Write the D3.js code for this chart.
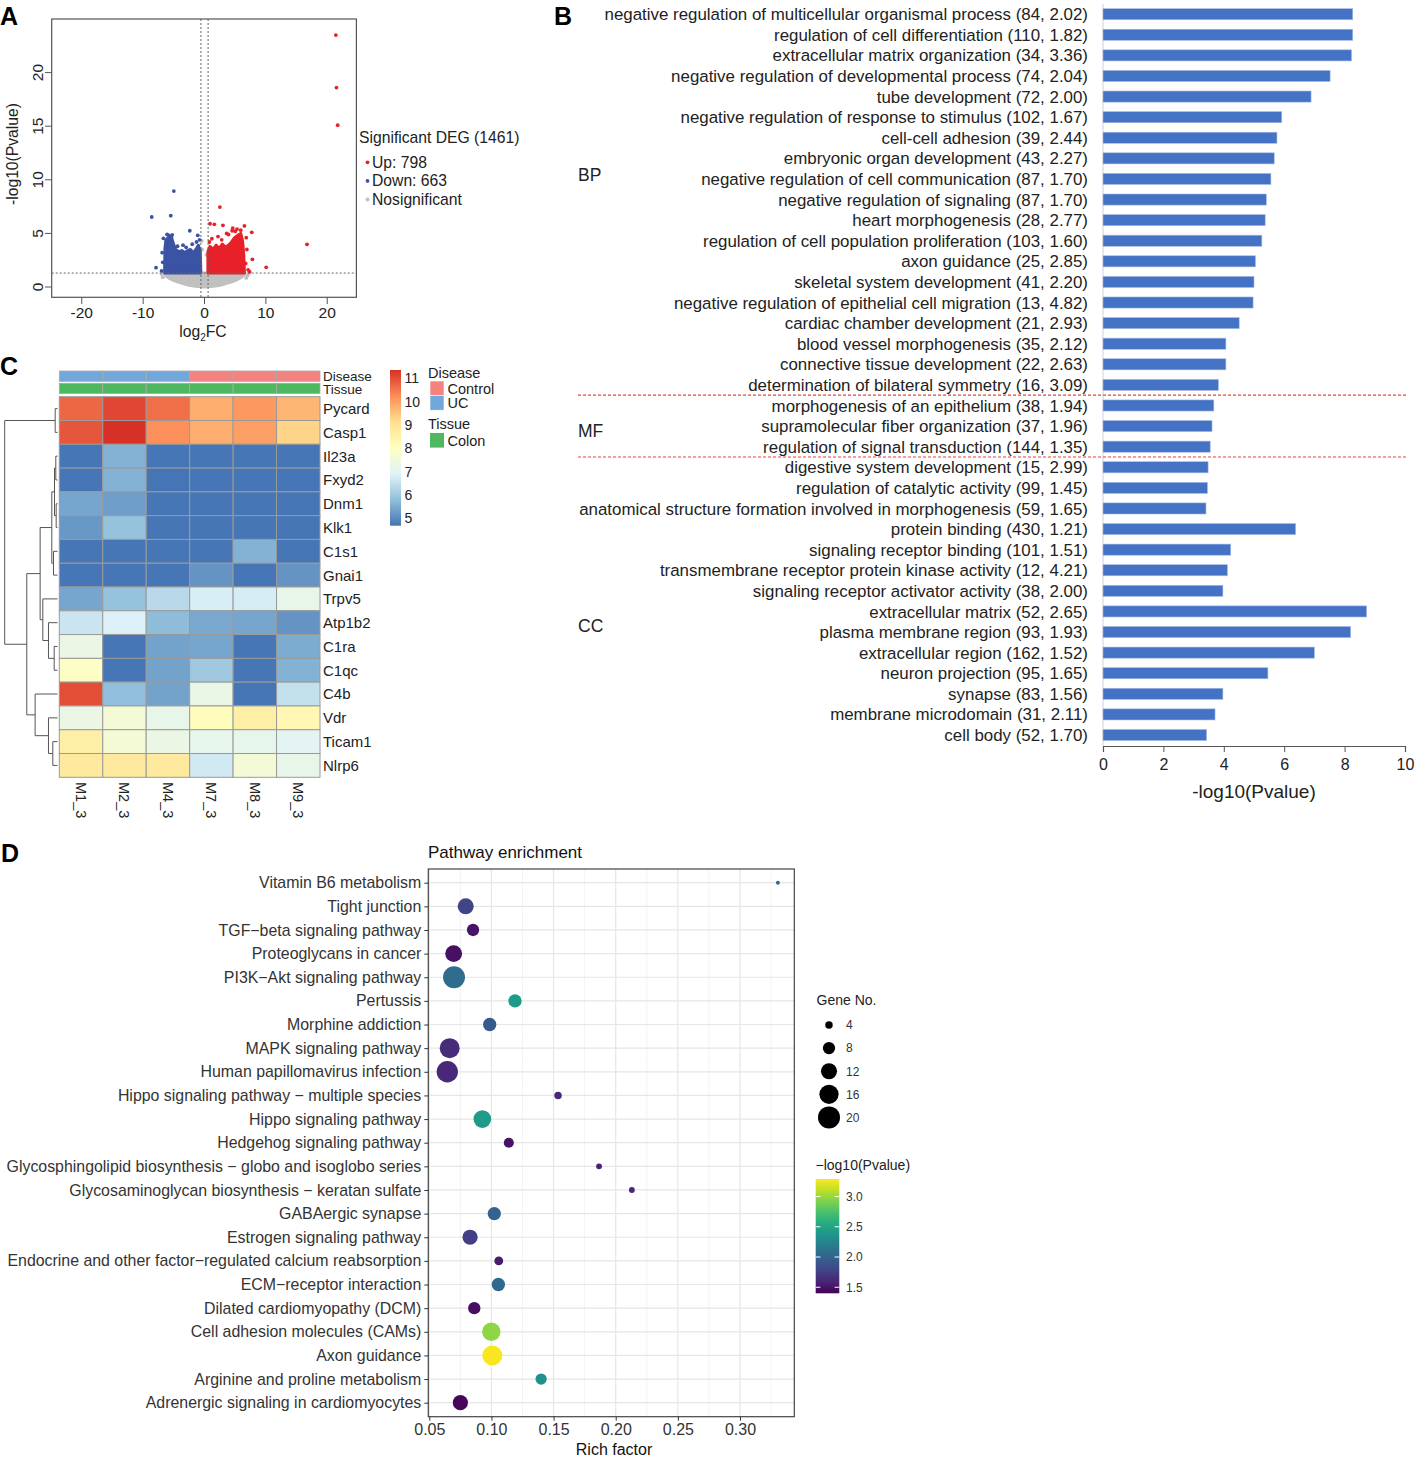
<!DOCTYPE html>
<html>
<head>
<meta charset="utf-8">
<script src="https://cdn.jsdelivr.net/npm/d3@7"></script>
<style>
  body { margin: 0; background: #fff; }
  svg { font-family: "Liberation Sans", Arial, sans-serif; }
</style>
</head>
<body>
<svg id="fig" width="1418" height="1458"></svg>
<script>
'use strict';

// ---------- A: volcano ----------
var degTotal = 1461, degUp = 798, degDown = 663;
var pCut = 1.3, fcCut = 0.585;
// dense clusters (outline), top edge at each log2FC
var upEdge = [[0.55,1.35],[0.55,3.3],[0.9,3.8],[1.4,3.5],[1.9,3.9],[2.4,3.6],[2.9,4.0],[3.4,3.7],[3.9,3.9],
  [4.4,4.2],[4.9,4.6],[5.4,4.8],[5.9,5.0],[6.2,4.3],[6.4,3.0],[6.5,1.35]];
var downEdge = [[-6.5,1.35],[-6.45,3.6],[-6.3,4.4],[-5.9,4.6],[-5.4,4.7],[-5.1,4.1],[-4.7,3.5],[-4.2,3.3],
  [-3.7,3.4],[-3.2,3.2],[-2.8,3.4],[-2.3,3.5],[-1.8,3.2],[-1.4,3.5],[-1.0,3.9],[-0.7,3.4],[-0.6,1.35]];
var nsFloor = [[-6.6,1.3],[-6.3,0.95],[-5,0.6],[-4,0.4],[-3,0.22],[-2,0.1],[-1,0.03],[0,0],
  [1,0.03],[2,0.1],[3,0.22],[4,0.4],[5,0.6],[6.3,0.95],[6.6,1.3]];
// scattered points
var upPoints = [[21.4,23.5],[21.5,18.6],[21.7,15.1],[16.7,3.98],[10.05,1.84],[7.35,1.43],[7.8,2.58],[7.7,5.1],
  [6.5,5.7],[2.5,7.46],[0.9,5.9],[1.6,5.85],[3.0,5.75],[4.6,5.5],[4.5,5.25],[5.9,5.3],[5.3,5.4],[3.9,4.9],
  [2.2,4.7],[1.2,4.5],[6.8,4.6],[6.9,3.5],[6.7,2.2],[7.1,1.6],[3.6,5.0],[5.0,5.2],[0.8,4.2],[2.8,4.4]];
var downPoints = [[-5.0,8.95],[-8.6,6.53],[-5.5,6.65],[-2.4,5.25],[-7.9,1.8],[-6.7,4.54],[-5.8,4.82],[-5.26,4.85],
  [-1.1,4.82],[-1.3,4.2],[-6.9,3.2],[-6.8,2.3],[-7.0,1.5],[-3.5,3.9],[-2.0,4.0],[-4.4,3.8],[-0.8,4.4],[-6.1,4.9],[-3.0,3.7]];
var nsPoints = [[7.2,1.25],[7.0,1.05],[-7.0,1.2],[-6.8,0.9],[6.8,0.85],[-0.45,4.3],[-0.4,3.5],[0.3,3.0]];
var volcXTicks = [-20, -10, 0, 10, 20];
var volcYTicks = [0, 5, 10, 15, 20];

// ---------- B: GO terms ----------
var goTerms = [
  'negative regulation of multicellular organismal process','regulation of cell differentiation',
  'extracellular matrix organization','negative regulation of developmental process','tube development',
  'negative regulation of response to stimulus','cell-cell adhesion','embryonic organ development',
  'negative regulation of cell communication','negative regulation of signaling','heart morphogenesis',
  'regulation of cell population proliferation','axon guidance','skeletal system development',
  'negative regulation of epithelial cell migration','cardiac chamber development','blood vessel morphogenesis',
  'connective tissue development','determination of bilateral symmetry',
  'morphogenesis of an epithelium','supramolecular fiber organization','regulation of signal transduction',
  'digestive system development','regulation of catalytic activity',
  'anatomical structure formation involved in morphogenesis','protein binding','signaling receptor binding',
  'transmembrane receptor protein kinase activity','signaling receptor activator activity','extracellular matrix',
  'plasma membrane region','extracellular region','neuron projection','synapse','membrane microdomain','cell body'];
var goCounts = [84,110,34,74,72,102,39,43,87,87,28,103,25,41,13,21,35,22,16, 38,37,144,
  15,99,59,430,101,12,38,52,93,162,95,83,31,52];
var goFold = [2.02,1.82,3.36,2.04,2.00,1.67,2.44,2.27,1.70,1.70,2.77,1.60,2.85,2.20,4.82,2.93,2.12,2.63,3.09,
  1.94,1.96,1.35, 2.99,1.45,1.65,1.21,1.51,4.21,2.00,2.65,1.93,1.52,1.65,1.56,2.11,1.70];
var goLogP = [8.27,8.27,8.23,7.52,6.89,5.92,5.76,5.67,5.56,5.41,5.37,5.26,5.05,5.00,4.97,4.51,4.07,4.07,3.82,
  3.67,3.61,3.55, 3.48,3.46,3.41,6.38,4.23,4.12,3.97,8.73,8.20,7.00,5.46,3.97,3.71,3.43];
var goGroups = ['BP','MF','CC'];
var goGroupSize = [19, 3, 14];
var goXTicks = [0, 2, 4, 6, 8, 10];

// ---------- C: heatmap ----------
var hmSamples = ['M1_3','M2_3','M4_3','M7_3','M8_3','M9_3'];
var hmDisease = ['UC','UC','UC','Control','Control','Control'];
var hmTissue = ['Colon','Colon','Colon','Colon','Colon','Colon'];
var hmGenes = ['Pycard','Casp1','Il23a','Fxyd2','Dnm1','Klk1','C1s1','Gnai1','Trpv5','Atp1b2','C1ra','C1qc','C4b','Vdr','Ticam1','Nlrp6'];
var hmValues = [
  [10.7, 11.1, 10.6, 9.8, 10.1, 9.7],
  [10.9, 11.36, 10.2, 9.8, 10.0, 9.3],
  [4.7, 5.6, 4.7, 4.7, 4.7, 4.7],
  [4.7, 5.6, 4.68, 4.7, 4.7, 4.7],
  [5.4, 5.3, 4.7, 4.7, 4.7, 4.7],
  [5.2, 5.85, 4.7, 4.7, 4.7, 4.7],
  [4.7, 4.7, 4.7, 4.7, 5.6, 4.7],
  [4.7, 4.7, 4.7, 5.15, 4.7, 5.15],
  [5.4, 5.85, 6.35, 6.8, 6.75, 7.2],
  [6.6, 6.85, 5.75, 5.45, 5.4, 5.15],
  [7.3, 4.7, 5.35, 5.4, 4.7, 5.5],
  [7.9, 4.7, 5.35, 6.0, 4.7, 5.6],
  [11.0, 5.8, 5.35, 7.25, 4.7, 6.5],
  [7.3, 7.6, 7.2, 8.1, 8.6, 8.3],
  [8.6, 7.6, 7.3, 7.15, 7.15, 7.0],
  [8.8, 8.8, 8.8, 6.7, 7.6, 7.2]];
// row clustering, hclust style: leaf name or index of an earlier merge, then height
var rowMerges = [
  ['Pycard','Casp1',4.4], ['Il23a','Fxyd2',3.2], ['Dnm1','Klk1',2.5], [1,2,5.7], ['C1s1','Gnai1',7.6],
  [3,4,10.8], ['C1ra','C1qc',6.3], ['Atp1b2',6,17.1], ['Trpv5',7,27.8], [5,8,32.9],
  ['Ticam1','Nlrp6',8.9], ['Vdr',10,17.1], ['C4b',11,42.4], [9,12,58.2], [0,13,100]];
var hmPalette = ['#4575B4','#91BFDB','#E0F3F8','#FFFFBF','#FEE090','#FC8D59','#D73027'];
var hmLegendTicks = [5, 6, 7, 8, 9, 10, 11];
var diseaseLevels = ['Control','UC'];
var diseaseColors = ['#F3837F','#72A7DB'];
var tissueLevels = ['Colon'];
var tissueColors = ['#4DB860'];

// ---------- D: KEGG bubbles ----------
var keggTerms = ['Vitamin B6 metabolism','Tight junction','TGF\u2212beta signaling pathway','Proteoglycans in cancer',
  'PI3K\u2212Akt signaling pathway','Pertussis','Morphine addiction','MAPK signaling pathway',
  'Human papillomavirus infection','Hippo signaling pathway \u2212 multiple species','Hippo signaling pathway',
  'Hedgehog signaling pathway','Glycosphingolipid biosynthesis \u2212 globo and isoglobo series',
  'Glycosaminoglycan biosynthesis \u2212 keratan sulfate','GABAergic synapse','Estrogen signaling pathway',
  'Endocrine and other factor\u2212regulated calcium reabsorption','ECM\u2212receptor interaction',
  'Dilated cardiomyopathy (DCM)','Cell adhesion molecules (CAMs)','Axon guidance',
  'Arginine and proline metabolism','Adrenergic signaling in cardiomyocytes'];
var keggRich = [0.3305,0.0793,0.0852,0.0696,0.0699,0.119,0.0986,0.0664,0.0645,0.1536,0.0927,0.114,0.1866,0.213,
  0.1023,0.0828,0.1059,0.1056,0.0862,0.0999,0.1007,0.140,0.075];
var keggGenes = [2,12,8,13,20,9,9,17,19,4,14,6,3,3,9,11,5,9,8,15,17,7,11];
var keggLogP = [2.05,1.78,1.5,1.48,2.06,2.44,1.93,1.63,1.62,1.62,2.44,1.49,1.58,1.62,2.0,1.74,1.55,2.04,1.47,2.97,3.27,2.35,1.43];
var keggXTicks = [0.05,0.10,0.15,0.20,0.25,0.30];
var geneLegend = [4, 8, 12, 16, 20];
var pLegend = [1.5, 2.0, 2.5, 3.0];

var svg = d3.select('#fig');

function panelLetter(t, x, y) {
  svg.append('text').attr('x', x).attr('y', y).attr('font-size', 25).attr('font-weight', 'bold')
    .attr('font-family', 'Liberation Sans, Arial, sans-serif').text(t);
}

// ================= Panel A =================
(function() {
  var g = svg.append('g');
  var x = d3.scaleLinear().domain([-24.9, 24.75]).range([51.7, 356.4]);
  var y = d3.scaleLinear().domain([-0.96, 25]).range([297.3, 19]);

  g.append('clipPath').attr('id', 'clipA').append('rect')
    .attr('x', 51.7).attr('y', 19).attr('width', 304.7).attr('height', 278.3);
  var p = g.append('g').attr('clip-path', 'url(#clipA)');

  p.append('path').datum(nsFloor)
    .attr('d', d3.area().x(function(d) { return x(d[0]); }).y0(y(pCut)).y1(function(d) { return y(d[1]); }).curve(d3.curveBasis))
    .attr('fill', '#c0c0c0').attr('stroke', '#c0c0c0').attr('stroke-width', 3).attr('stroke-linejoin', 'round');
  p.selectAll('.ns').data(nsPoints).enter().append('circle')
    .attr('cx', function(d) { return x(d[0]); }).attr('cy', function(d) { return y(d[1]); })
    .attr('r', 1.9).attr('fill', '#c0c0c0');

  var edge = d3.area().x(function(d) { return x(d[0]); }).y0(y(pCut)).y1(function(d) { return y(d[1]); });
  p.append('path').datum(downEdge).attr('d', edge)
    .attr('fill', '#3a53a4').attr('stroke', '#3a53a4').attr('stroke-width', 3).attr('stroke-linejoin', 'round');
  p.append('path').datum(upEdge).attr('d', edge)
    .attr('fill', '#e8202a').attr('stroke', '#e8202a').attr('stroke-width', 3).attr('stroke-linejoin', 'round');
  p.selectAll('.dn').data(downPoints).enter().append('circle')
    .attr('cx', function(d) { return x(d[0]); }).attr('cy', function(d) { return y(d[1]); })
    .attr('r', 1.9).attr('fill', '#3a53a4');
  p.selectAll('.up').data(upPoints).enter().append('circle')
    .attr('cx', function(d) { return x(d[0]); }).attr('cy', function(d) { return y(d[1]); })
    .attr('r', 1.9).attr('fill', '#e8202a');

  // cut-off lines
  [-fcCut, fcCut].forEach(function(v) {
    p.append('line').attr('x1', x(v)).attr('x2', x(v)).attr('y1', 19).attr('y2', 297.3)
      .attr('stroke', '#666').attr('stroke-width', 1).attr('stroke-dasharray', '2,2');
  });
  p.append('line').attr('x1', 51.7).attr('x2', 356.4).attr('y1', y(pCut)).attr('y2', y(pCut))
    .attr('stroke', '#666').attr('stroke-width', 1).attr('stroke-dasharray', '2,2');

  g.append('rect').attr('x', 51.7).attr('y', 19).attr('width', 304.7).attr('height', 278.3)
    .attr('fill', 'none').attr('stroke', '#555').attr('stroke-width', 1.2);

  // axes, base-R look
  g.selectAll('.xt').data(volcXTicks).enter().append('line')
    .attr('x1', x).attr('x2', x).attr('y1', 297.3).attr('y2', 304).attr('stroke', '#555');
  g.selectAll('.xl').data(volcXTicks).enter().append('text')
    .attr('x', x).attr('y', 318).attr('text-anchor', 'middle').attr('font-size', 15.5).attr('fill', '#222')
    .text(function(d) { return d; });
  g.selectAll('.yt').data(volcYTicks).enter().append('line')
    .attr('x1', 45).attr('x2', 51.7).attr('y1', y).attr('y2', y).attr('stroke', '#555');
  g.selectAll('.yl').data(volcYTicks).enter().append('text')
    .attr('transform', function(d) { return 'translate(43,' + y(d) + ') rotate(-90)'; })
    .attr('text-anchor', 'middle').attr('font-size', 15.5).attr('fill', '#222').text(function(d) { return d; });

  g.append('text').attr('transform', 'translate(18,154) rotate(-90)').attr('text-anchor', 'middle')
    .attr('font-size', 15.7).attr('fill', '#222').text('-log10(Pvalue)');
  var xl = g.append('text').attr('x', 203).attr('y', 337).attr('text-anchor', 'middle')
    .attr('font-size', 15.7).attr('fill', '#222');
  xl.append('tspan').text('log');
  xl.append('tspan').attr('font-size', 10).attr('dy', 4).text('2');
  xl.append('tspan').attr('dy', -4).text('FC');

  // legend
  g.append('text').attr('x', 359).attr('y', 143).attr('font-size', 15.7).attr('fill', '#222')
    .text('Significant DEG (' + degTotal + ')');
  var leg = [['Up: ' + degUp, '#e8202a'], ['Down: ' + degDown, '#3a53a4'], ['Nosignificant', '#c0c0c0']];
  leg.forEach(function(d, i) {
    var yy = 162.3 + i * 18.6;
    g.append('circle').attr('cx', 367.5).attr('cy', yy).attr('r', 1.9).attr('fill', d[1]);
    g.append('text').attr('x', 372).attr('y', yy + 5.5).attr('font-size', 15.7).attr('fill', '#222').text(d[0]);
  });
  panelLetter('A', 0, 25);
})();

// ================= Panel B =================
(function() {
  var g = svg.append('g');
  var x = d3.scaleLinear().domain([0, 10]).range([1103, 1405]);
  var y = d3.scaleBand().domain(goTerms).range([3.9, 745.3]).paddingInner(0.46).paddingOuter(0.23);

  g.append('line').attr('x1', 1103).attr('x2', 1103).attr('y1', 4).attr('y2', 746)
    .attr('stroke', '#d9d9d9').attr('stroke-width', 1.2);

  g.selectAll('rect.bar').data(goTerms).enter().append('rect').attr('class', 'bar')
    .attr('x', x(0)).attr('y', function(d) { return y(d); })
    .attr('width', function(d, i) { return x(goLogP[i]) - x(0); })
    .attr('height', y.bandwidth())
    .attr('fill', '#4472C4').attr('stroke', '#a9bde6').attr('stroke-width', 0.6);

  g.selectAll('text.lab').data(goTerms).enter().append('text').attr('class', 'lab')
    .attr('x', 1088).attr('y', function(d) { return y(d) + y.bandwidth() / 2; })
    .attr('dy', '0.36em').attr('text-anchor', 'end').attr('font-size', 16.9).attr('fill', '#222')
    .text(function(d, i) { return d + ' (' + goCounts[i] + ', ' + d3.format('.2f')(goFold[i]) + ')'; });

  // group separators and labels
  var start = 0;
  var labelRowPos = [7.8, 20.2, 29.7];
  goGroups.forEach(function(grp, k) {
    var end = start + goGroupSize[k];
    if (k > 0) {
      var yy = y(goTerms[start]) - y.step() * 0.23;
      g.append('line').attr('x1', 578).attr('x2', 1407).attr('y1', yy).attr('y2', yy)
        .attr('stroke', '#e8413a').attr('stroke-width', 1.2).attr('stroke-dasharray', '3,2');
    }
    var ly = y(goTerms[0]) + y.bandwidth() / 2 + labelRowPos[k] * y.step();
    g.append('text').attr('x', 578).attr('y', ly).attr('dy', '0.36em').attr('font-size', 17.5).attr('fill', '#222').text(grp);
    start = end;
  });

  var ax = g.append('g').attr('transform', 'translate(0,746)')
    .call(d3.axisBottom(x).tickValues(goXTicks).tickSize(6).tickPadding(7));
  ax.select('.domain').attr('stroke', '#555').attr('stroke-width', 1.2);
  ax.selectAll('.tick line').attr('stroke', '#555');
  ax.selectAll('text').attr('font-size', 16).attr('fill', '#222').attr('font-family', null);
  g.append('text').attr('x', 1254).attr('y', 798).attr('text-anchor', 'middle').attr('font-size', 19)
    .attr('fill', '#222').text('-log10(Pvalue)');
  panelLetter('B', 554, 25);
})();

// ================= Panel C =================
(function() {
  var g = svg.append('g');
  var x = d3.scaleBand().domain(hmSamples).range([59.3, 320]);
  var y = d3.scaleBand().domain(hmGenes).range([396.7, 777.3]);
  var ext = d3.extent(d3.merge(hmValues));
  var col = d3.scaleLinear()
    .domain(hmPalette.map(function(c, i) { return ext[0] + (ext[1] - ext[0]) * i / (hmPalette.length - 1); }))
    .range(hmPalette).interpolate(d3.interpolateRgb);
  var dCol = d3.scaleOrdinal().domain(diseaseLevels).range(diseaseColors);
  var tCol = d3.scaleOrdinal().domain(tissueLevels).range(tissueColors);

  // annotation tracks
  g.selectAll('.ad').data(hmSamples).enter().append('rect')
    .attr('x', function(d) { return x(d); }).attr('y', 371).attr('width', x.bandwidth()).attr('height', 10.3)
    .attr('fill', function(d, i) { return dCol(hmDisease[i]); }).attr('stroke', '#aaa').attr('stroke-width', 0.8);
  g.selectAll('.at').data(hmSamples).enter().append('rect')
    .attr('x', function(d) { return x(d); }).attr('y', 383.3).attr('width', x.bandwidth()).attr('height', 10.3)
    .attr('fill', function(d, i) { return tCol(hmTissue[i]); }).attr('stroke', '#aaa').attr('stroke-width', 0.8);
  g.append('text').attr('x', 323).attr('y', 380.5).attr('font-size', 13.5).attr('fill', '#222').text('Disease');
  g.append('text').attr('x', 323).attr('y', 393.5).attr('font-size', 13.5).attr('fill', '#222').text('Tissue');

  // cells
  hmValues.forEach(function(row, r) {
    g.selectAll('.c' + r).data(row).enter().append('rect')
      .attr('x', function(d, c) { return x(hmSamples[c]); }).attr('y', y(hmGenes[r]))
      .attr('width', x.bandwidth()).attr('height', y.bandwidth())
      .attr('fill', function(d) { return col(d); }).attr('stroke', '#9a9a9a').attr('stroke-width', 1);
  });
  g.selectAll('.rl').data(hmGenes).enter().append('text')
    .attr('x', 323).attr('y', function(d) { return y(d) + y.bandwidth() / 2; }).attr('dy', '0.36em')
    .attr('font-size', 15).attr('fill', '#222').text(function(d) { return d; });
  g.selectAll('.cl').data(hmSamples).enter().append('text')
    .attr('transform', function(d) { return 'translate(' + (x(d) + x.bandwidth() / 2) + ',782) rotate(90)'; })
    .attr('dy', '0.36em').attr('font-size', 14.5).attr('fill', '#222').text(function(d) { return d; });

  // dendrogram
  var h = d3.scaleLinear().domain([0, 100]).range([57.5, 4.7]);
  var pos = rowMerges.map(function() { return null; });
  function at(ref) {
    if (typeof ref === 'string') return { x: h(0), y: y(ref) + y.bandwidth() / 2 };
    return pos[ref];
  }
  rowMerges.forEach(function(m, i) {
    var a = at(m[0]), b = at(m[1]), hx = h(m[2]);
    pos[i] = { x: hx, y: (a.y + b.y) / 2 };
    g.append('path').attr('d', 'M' + a.x + ',' + a.y + 'H' + hx + 'V' + b.y + 'H' + b.x)
      .attr('fill', 'none').attr('stroke', '#555').attr('stroke-width', 1);
  });

  // colour key
  var cy = d3.scaleLinear().domain(ext).range([525.7, 370]);
  var grad = svg.append('defs').append('linearGradient').attr('id', 'hmGrad')
    .attr('x1', 0).attr('y1', 1).attr('x2', 0).attr('y2', 0);
  hmPalette.forEach(function(c, i) {
    grad.append('stop').attr('offset', i / (hmPalette.length - 1)).attr('stop-color', c);
  });
  g.append('rect').attr('x', 390).attr('y', 370).attr('width', 11).attr('height', 155.7).attr('fill', 'url(#hmGrad)');
  g.selectAll('.kl').data(hmLegendTicks).enter().append('text')
    .attr('x', 404.5).attr('y', cy).attr('dy', '0.36em').attr('font-size', 14).attr('fill', '#222')
    .text(function(d) { return d; });

  // annotation legend
  g.append('text').attr('x', 428).attr('y', 378).attr('font-size', 14.5).attr('fill', '#222').text('Disease');
  diseaseLevels.forEach(function(lv, i) {
    g.append('rect').attr('x', 430).attr('y', 381 + i * 14.6).attr('width', 14).attr('height', 14.6)
      .attr('fill', dCol(lv)).attr('stroke', '#fff').attr('stroke-width', 0.6);
    g.append('text').attr('x', 447.5).attr('y', 388.3 + i * 14.6).attr('dy', '0.36em').attr('font-size', 14.5)
      .attr('fill', '#222').text(lv);
  });
  g.append('text').attr('x', 428).attr('y', 429).attr('font-size', 14.5).attr('fill', '#222').text('Tissue');
  tissueLevels.forEach(function(lv, i) {
    g.append('rect').attr('x', 430).attr('y', 433 + i * 14.6).attr('width', 14).attr('height', 14.6)
      .attr('fill', tCol(lv));
    g.append('text').attr('x', 447.5).attr('y', 440.5 + i * 14.6).attr('dy', '0.36em').attr('font-size', 14.5)
      .attr('fill', '#222').text(lv);
  });
  panelLetter('C', 0, 375);
})();

// ================= Panel D =================
(function() {
  var g = svg.append('g');
  var L = 428.3, R = 794.3, T = 869, B = 1416.7;
  var x = d3.scaleLinear().domain([0.0492, 0.3437]).range([L, R]);
  var y = d3.scalePoint().domain(keggTerms).range([882.7, 1402.7]);
  var r = d3.scaleSqrt().domain([2, 20]).range([2, 11]);
  var pExt = [1.40, 3.29];
  var c = d3.scaleSequential(d3.interpolateViridis).domain(pExt);

  var minor = keggXTicks.map(function(v) { return v + 0.025; });
  g.selectAll('.gm').data(minor).enter().append('line')
    .attr('x1', x).attr('x2', x).attr('y1', T).attr('y2', B).attr('stroke', '#ebebeb').attr('stroke-width', 0.6);
  g.selectAll('.gx').data(keggXTicks).enter().append('line')
    .attr('x1', x).attr('x2', x).attr('y1', T).attr('y2', B).attr('stroke', '#e6e6e6').attr('stroke-width', 1.2);
  g.selectAll('.gy').data(keggTerms).enter().append('line')
    .attr('x1', L).attr('x2', R).attr('y1', y).attr('y2', y).attr('stroke', '#e6e6e6').attr('stroke-width', 1.2);

  g.selectAll('circle.pt').data(keggTerms).enter().append('circle').attr('class', 'pt')
    .attr('cx', function(d, i) { return x(keggRich[i]); }).attr('cy', function(d) { return y(d); })
    .attr('r', function(d, i) { return r(keggGenes[i]); })
    .attr('fill', function(d, i) { return c(keggLogP[i]); });

  g.append('rect').attr('x', L).attr('y', T).attr('width', R - L).attr('height', B - T)
    .attr('fill', 'none').attr('stroke', '#444').attr('stroke-width', 1.2);

  var ax = g.append('g').attr('transform', 'translate(0,' + B + ')')
    .call(d3.axisBottom(x).tickValues(keggXTicks).tickFormat(d3.format('.2f')).tickSize(4).tickPadding(3));
  ax.select('.domain').remove();
  ax.selectAll('.tick line').attr('stroke', '#333');
  ax.selectAll('text').attr('font-size', 16).attr('fill', '#333').attr('font-family', null);
  var ay = g.append('g').attr('transform', 'translate(' + L + ',0)')
    .call(d3.axisLeft(y).tickSize(4).tickPadding(3));
  ay.select('.domain').remove();
  ay.selectAll('.tick line').attr('stroke', '#333');
  ay.selectAll('text').attr('font-size', 15.9).attr('fill', '#333').attr('font-family', null);

  g.append('text').attr('x', 428).attr('y', 858).attr('font-size', 17).attr('fill', '#111').text('Pathway enrichment');
  g.append('text').attr('x', 614).attr('y', 1455).attr('text-anchor', 'middle').attr('font-size', 16)
    .attr('fill', '#111').text('Rich factor');

  // size legend
  g.append('text').attr('x', 816.5).attr('y', 1005).attr('font-size', 14).attr('fill', '#222').text('Gene No.');
  geneLegend.forEach(function(v, i) {
    var yy = 1025 + i * 23.1;
    g.append('circle').attr('cx', 829).attr('cy', yy).attr('r', r(v)).attr('fill', '#000');
    g.append('text').attr('x', 846).attr('y', yy).attr('dy', '0.36em').attr('font-size', 12).attr('fill', '#333').text(v);
  });

  // colour legend
  g.append('text').attr('x', 815.5).attr('y', 1170).attr('font-size', 14).attr('fill', '#222').text('\u2212log10(Pvalue)');
  var cy = d3.scaleLinear().domain(pExt).range([1293.3, 1179]);
  var grad = svg.append('defs').append('linearGradient').attr('id', 'pGrad')
    .attr('x1', 0).attr('y1', 1).attr('x2', 0).attr('y2', 0);
  d3.range(0, 1.0001, 0.1).forEach(function(t) {
    grad.append('stop').attr('offset', t).attr('stop-color', d3.interpolateViridis(t));
  });
  g.append('rect').attr('x', 815.7).attr('y', 1179).attr('width', 23.6).attr('height', 114.3).attr('fill', 'url(#pGrad)');
  pLegend.forEach(function(v) {
    var yy = cy(v);
    g.append('line').attr('x1', 815.7).attr('x2', 820.4).attr('y1', yy).attr('y2', yy).attr('stroke', '#fff').attr('stroke-width', 1);
    g.append('line').attr('x1', 834.6).attr('x2', 839.3).attr('y1', yy).attr('y2', yy).attr('stroke', '#fff').attr('stroke-width', 1);
    g.append('text').attr('x', 846).attr('y', yy).attr('dy', '0.36em').attr('font-size', 12).attr('fill', '#333')
      .text(d3.format('.1f')(v));
  });
  panelLetter('D', 1, 862);
})();
</script>
</body>
</html>
